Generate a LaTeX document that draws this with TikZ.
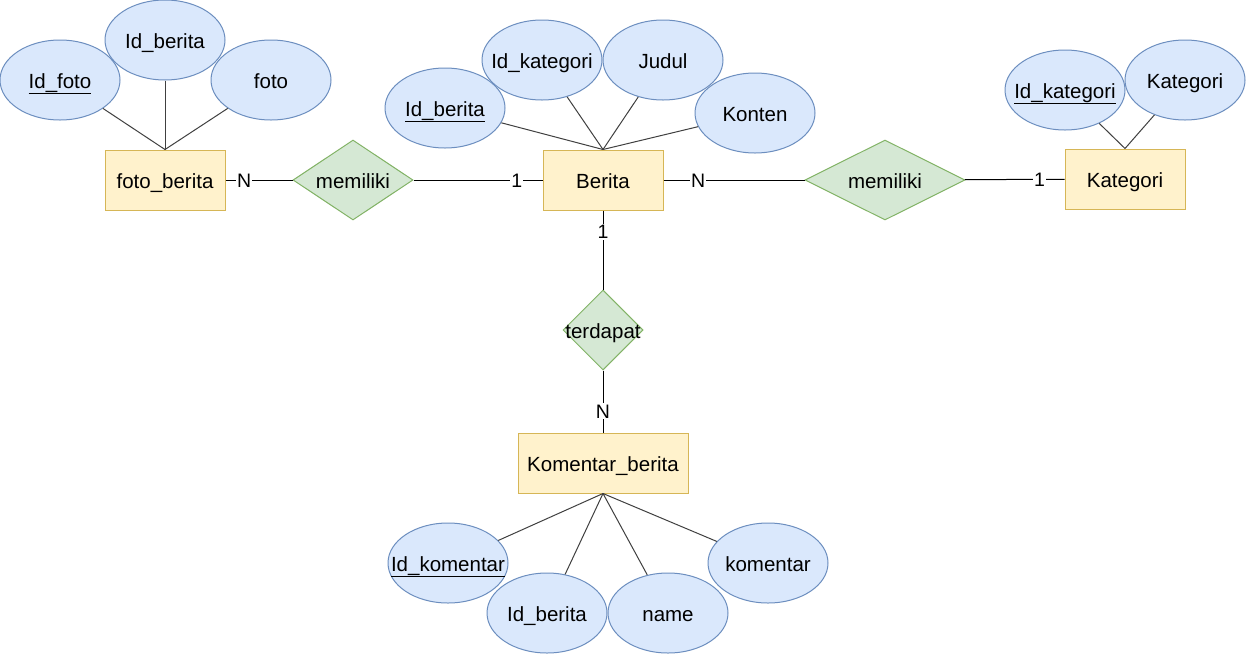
\documentclass[tikz,border=0pt]{standalone}
\usepackage{fontspec}
\setmainfont{Liberation Sans}
\usetikzlibrary{shapes.geometric}
\definecolor{attrfill}{HTML}{DAE8FC}
\definecolor{attrdraw}{HTML}{6C8EBF}
\definecolor{entfill}{HTML}{FFF2CC}
\definecolor{entdraw}{HTML}{D6B656}
\definecolor{relfill}{HTML}{D5E8D4}
\definecolor{reldraw}{HTML}{82B366}
\definecolor{linegray}{HTML}{404040}
\newcommand{\zt}[1]{\makebox[0pt]{#1}}
\begin{document}
\begin{tikzpicture}[x=1pt,y=-1pt,
 every node/.style={font=\fontsize{20.5}{24}\selectfont, text height=16pt, text depth=0pt},
 attr/.style={ellipse, draw=attrdraw, fill=attrfill, minimum width=120pt, minimum height=80pt, inner sep=0pt, line width=1pt},
 entity/.style={rectangle, draw=entdraw, fill=entfill, minimum height=60pt, inner sep=0pt, line width=1pt},
 rel/.style={diamond, draw=reldraw, fill=relfill, inner sep=0pt, line width=1pt},
 conn/.style={draw=black, line width=1pt},
 attrline/.style={draw=linegray, line width=1pt},
 card/.style={fill=white, inner sep=1pt, text height=14pt, font=\fontsize{19.5}{22}\selectfont}]
\useasboundingbox (0,0) rectangle (1247,654);
\fill[white] (0,0) rectangle (1247,654);

% foto_berita
\node[attr] (fa1) at (60,80) {\zt{\underline{Id\_foto}}};
\node[attr] (fa2) at (165,40) {\zt{Id\_berita}};
\node[attr] (fa3) at (271,80) {\zt{foto}};
\node[entity, minimum width=120pt] (fb) at (165,180) {foto\_berita};

% Berita
\node[attr] (ba1) at (445,108) {\zt{\underline{Id\_berita}}};
\node[attr] (ba2) at (542,60) {\zt{Id\_kategori}};
\node[attr] (ba3) at (663,60) {\zt{Judul}};
\node[attr] (ba4) at (755,113) {\zt{Konten}};
\node[entity, minimum width=120pt] (b) at (603,180) {Berita};

% Kategori
\node[attr] (ka1) at (1065,90) {\zt{\underline{Id\_kategori}}};
\node[attr] (ka2) at (1185,80) {\zt{Kategori}};
\node[entity, minimum width=120pt] (k) at (1125,179) {Kategori};

% relations
\node[rel, minimum width=120pt, minimum height=80pt] (d1) at (353,180) {\zt{memiliki}};
\node[rel, minimum width=160pt, minimum height=80pt] (d2) at (885,180) {\zt{memiliki}};
\node[rel, minimum width=80pt, minimum height=80pt] (d3) at (603,330) {\zt{terdapat}};

% Komentar_berita
\node[entity, minimum width=170pt] (kb) at (603,463) {Komentar\_berita};
\node[attr] (ca1) at (448,563) {\zt{\underline{Id\_komentar}}};
\node[attr] (ca2) at (547,613) {\zt{Id\_berita}};
\node[attr] (ca3) at (668,613) {\zt{name}};
\node[attr] (ca4) at (768,563) {\zt{komentar}};

% attribute lines
\draw[attrline] (fb.north) -- (fa1);
\draw[attrline] (fb.north) -- (fa2);
\draw[attrline] (fb.north) -- (fa3);
\draw[attrline] (b.north) -- (ba1);
\draw[attrline] (b.north) -- (ba2);
\draw[attrline] (b.north) -- (ba3);
\draw[attrline] (b.north) -- (ba4);
\draw[attrline] (k.north) -- (ka1);
\draw[attrline] (k.north) -- (ka2);
\draw[attrline] (kb.south) -- (ca1);
\draw[attrline] (kb.south) -- (ca2);
\draw[attrline] (kb.south) -- (ca3);
\draw[attrline] (kb.south) -- (ca4);

% relationship lines
\draw[conn] (fb) -- node[card, pos=0.28] {N} (d1);
\draw[conn] (d1) -- node[card, pos=0.8] {1} (b);
\draw[conn] (b) -- node[card, pos=0.246] {N} (d2);
\draw[conn] (d2) -- node[card, pos=0.75] {1} (k);
\draw[conn] (b) -- node[card, pos=0.27] {1} (d3);
\draw[conn] (d3) -- node[card, pos=0.66] {N} (kb);
\end{tikzpicture}
\end{document}
